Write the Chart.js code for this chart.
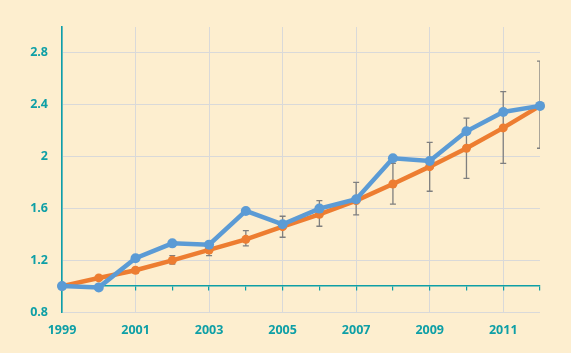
<!DOCTYPE html>
<html>
<head>
<meta charset="utf-8">
<script src="https://cdn.jsdelivr.net/npm/chart.js@4/dist/chart.umd.min.js"></script>
<style>
  html, body { margin: 0; padding: 0; background: #fdeecf; }
  #wrap { width: 571px; height: 353px; position: relative; }
</style>
</head>
<body>
<div id="wrap"><canvas id="c"></canvas></div>
<script>
const years = [1999, 2000, 2001, 2002, 2003, 2004, 2005, 2006, 2007, 2008, 2009, 2010, 2011, 2012];
const labeledYears = [1999, 2001, 2003, 2005, 2007, 2009, 2011];
const yTicks = [0.8, 1.2, 1.6, 2, 2.4, 2.8];
const blueSeries = [1.0, 0.99, 1.215, 1.33, 1.32, 1.58, 1.477, 1.598, 1.67, 1.987, 1.966, 2.195, 2.344, 2.391];
const orangeSeries = [1.0, 1.063, 1.122, 1.199, 1.279, 1.361, 1.459, 1.554, 1.66, 1.788, 1.922, 2.064, 2.221, 2.391];
const errorLow = [null, null, 1.10, 1.17, 1.235, 1.31, 1.377, 1.462, 1.549, 1.632, 1.732, 1.832, 1.948, 2.064];
const errorHigh = [null, null, 1.14, 1.235, 1.30, 1.428, 1.539, 1.66, 1.80, 1.948, 2.11, 2.296, 2.501, 2.736];

const TEAL = '#0e9fa6';
const GRID = '#d9d9d9';
const FONT = { family: "'Open Sans', 'Liberation Sans', sans-serif", size: 12.5, weight: '700' };

const errorBarPlugin = {
  id: 'errorBars',
  beforeDatasetsDraw(chart) {
    const { ctx, chartArea, scales } = chart;
    ctx.save();
    ctx.beginPath();
    ctx.rect(chartArea.left, chartArea.top, chartArea.right - chartArea.left, chartArea.bottom - chartArea.top);
    ctx.clip();
    ctx.strokeStyle = '#7f7f7f';
    ctx.lineWidth = 1.3;
    years.forEach((yr, i) => {
      if (errorLow[i] == null) return;
      const x = scales.x.getPixelForValue(i);
      const y1 = scales.y.getPixelForValue(errorLow[i]);
      const y2 = scales.y.getPixelForValue(errorHigh[i]);
      ctx.beginPath();
      ctx.moveTo(x, y1); ctx.lineTo(x, y2);
      ctx.moveTo(x - 3, y1); ctx.lineTo(x + 3, y1);
      ctx.moveTo(x - 3, y2); ctx.lineTo(x + 3, y2);
      ctx.stroke();
    });
    ctx.restore();
  }
};

new Chart(document.getElementById('c'), {
  type: 'line',
  data: {
    labels: years.map(String),
    datasets: [
      {
        label: 'Blue',
        data: blueSeries,
        borderColor: '#5b9bd5',
        backgroundColor: '#5b9bd5',
        borderWidth: 4.5,
        pointRadius: 5,
        pointHoverRadius: 5,
        pointBorderWidth: 0,
        tension: 0,
        clip: false
      },
      {
        label: 'Orange',
        data: orangeSeries,
        borderColor: '#ed7d31',
        backgroundColor: '#ed7d31',
        borderWidth: 4.5,
        pointRadius: 4.5,
        pointHoverRadius: 4.5,
        pointBorderWidth: 0,
        tension: 0,
        clip: false
      }
    ]
  },
  options: {
    responsive: true,
    maintainAspectRatio: false,
    animation: false,
    events: [],
    layout: { padding: { top: 27, right: 31, left: 0, bottom: 0 } },
    plugins: { legend: { display: false }, tooltip: { enabled: false } },
    scales: {
      x: {
        type: 'category',
        offset: false,
        position: 'bottom',
        border: { display: false },
        grid: {
          drawTicks: false,
          color: (c) => (c.tick && labeledYears.includes(Number(years[c.index]))) ? GRID : 'rgba(0,0,0,0)',
          lineWidth: 1
        },
        ticks: {
          autoSkip: false,
          maxRotation: 0,
          padding: 11,
          color: TEAL,
          font: FONT,
          callback: (v, i) => labeledYears.includes(years[i]) ? String(years[i]) : ''
        },
        afterFit: (s) => { s.height = 41; }
      },
      x2: {
        type: 'category',
        labels: years.map(String),
        offset: false,
        position: { y: 1.0 },
        border: { display: true, color: TEAL, width: 1.6 },
        grid: { drawOnChartArea: false, drawTicks: true, tickLength: 4, color: TEAL, lineWidth: 1.2 },
        ticks: { display: false }
      },
      y: {
        type: 'linear',
        min: 0.8,
        max: 3.0,
        position: 'left',
        border: { display: true, color: TEAL, width: 1.6 },
        grid: { drawTicks: false, color: GRID, lineWidth: 1 },
        afterBuildTicks: (s) => { s.ticks = yTicks.map(v => ({ value: v })); },
        ticks: {
          padding: 14,
          color: TEAL,
          font: FONT,
          callback: (v) => String(Math.round(v * 10) / 10)
        },
        afterFit: (s) => { s.width = 62; }
      }
    }
  },
  plugins: [errorBarPlugin]
});
</script>
</body>
</html>
